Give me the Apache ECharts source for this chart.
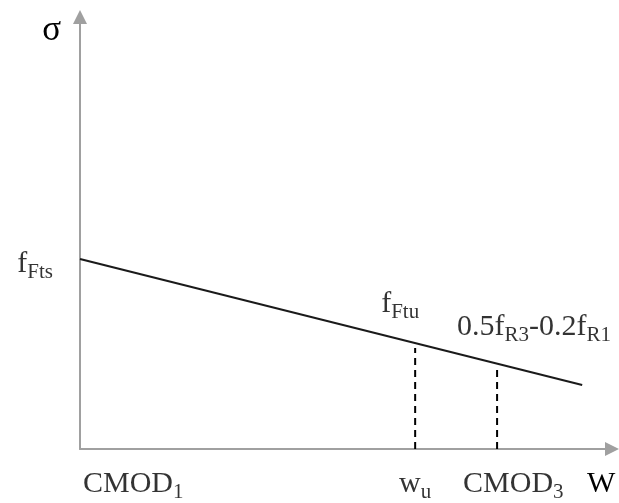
<!DOCTYPE html>
<html>
<head>
<meta charset="utf-8">
<script src="https://cdn.jsdelivr.net/npm/echarts@6/dist/echarts.min.js"></script>
<style>html,body{margin:0;padding:0;background:#fff;}#c{width:619px;height:503px;}</style>
</head>
<body>
<div id="c"></div>
<script>
// ---- data (arbitrary units: x 0..100, y 0..100) ----
const lineX = [0, 94.4];
const lineY = [44.0, 14.8];
const dashX = [63.0, 78.4];
const dashTop = [23.4, 18.3];
const xMarks = [0, 63.0, 78.4];
const xLabelMain = ['CMOD', 'w', 'CMOD'];
const xLabelSub = ['1', 'u', '3'];
const curveX = [0, 63.0, 78.4];
const curveY = [44.0, 24.5, 19.7];
const curveLabels = [['f', 'Fts'], ['f', 'Ftu'], ['0.5f', 'R3', '-0.2f', 'R1']];
const yName = 'σ';
const xName = 'W';

const FONT = 'Liberation Serif';
const rich = {
  m: { fontFamily: FONT, fontSize: 30, lineHeight: 34, verticalAlign: 'bottom', padding: [0, 0, 4, 0], color: '#000' },
  s: { fontFamily: FONT, fontSize: 21, lineHeight: 34, verticalAlign: 'bottom', color: '#000' }
};
function richText(parts) {
  return parts.map((p, i) => (i % 2 === 0 ? '{m|' + p + '}' : '{s|' + p + '}')).join('');
}

// label placement (style, not data)
const curveLabelLayout = [
  { align: 'right', offset: [-27, -10] },
  { align: 'left', offset: [-34, -54] },
  { align: 'left', offset: [-40, -52] }
];
const xLabelLayout = [
  { align: 'left', offset: [3, 20] },
  { align: 'center', offset: [0, 20] },
  { align: 'left', offset: [-34, 20] }
];

const series = [
  {
    type: 'line', data: lineX.map((x, i) => [x, lineY[i]]),
    symbol: 'none', lineStyle: { color: '#1a1a1a', width: 2 }, z: 3
  }
];
dashX.forEach((x, i) => {
  series.push({
    type: 'line', data: [[x, 0], [x, dashTop[i]]], symbol: 'none',
    lineStyle: { color: '#000', width: 2, type: [7, 5] }, z: 2
  });
});
series.push({
  type: 'scatter', symbolSize: 0, silent: true, z: 5,
  data: curveX.map((x, i) => ({
    value: [x, curveY[i]],
    label: {
      show: true, position: 'inside', verticalAlign: 'top',
      align: curveLabelLayout[i].align, offset: curveLabelLayout[i].offset,
      formatter: richText(curveLabels[i]), rich: rich
    }
  }))
});
series.push({
  type: 'scatter', symbolSize: 0, silent: true, z: 5,
  data: xMarks.map((x, i) => ({
    value: [x, 0],
    label: {
      show: true, position: 'inside', verticalAlign: 'top',
      align: xLabelLayout[i].align, offset: xLabelLayout[i].offset,
      formatter: richText([xLabelMain[i], xLabelSub[i]]), rich: rich
    }
  }))
});

const axisLineStyle = { color: '#a0a0a0', width: 2 };
const option = {
  animation: false,
  backgroundColor: '#fff',
  grid: { left: 80, right: 7, top: 17, bottom: 54, containLabel: false, outerBoundsMode: 'none' },
  xAxis: {
    type: 'value', min: 0, max: 100,
    name: xName, nameLocation: 'end', nameGap: -25,
    nameTextStyle: { fontFamily: FONT, fontSize: 30, lineHeight: 32, color: '#000', align: 'left', verticalAlign: 'top', padding: [19, 0, 0, 0] },
    axisLine: { show: true, lineStyle: axisLineStyle, symbol: ['none', 'triangle'], symbolSize: [14, 14] },
    axisTick: { show: false }, axisLabel: { show: false }, splitLine: { show: false }
  },
  yAxis: {
    type: 'value', min: 0, max: 100,
    name: yName, nameLocation: 'end', nameGap: -14,
    nameTextStyle: { fontFamily: FONT, fontSize: 35, color: '#000', align: 'right', verticalAlign: 'middle', padding: [0, 19, 0, 0] },
    axisLine: { show: true, lineStyle: axisLineStyle, symbol: ['none', 'triangle'], symbolSize: [14, 14] },
    axisTick: { show: false }, axisLabel: { show: false }, splitLine: { show: false }
  },
  series: series
};
const chart = echarts.init(document.getElementById('c'), null, { renderer: 'canvas' });
chart.setOption(option);
</script>
</body>
</html>
